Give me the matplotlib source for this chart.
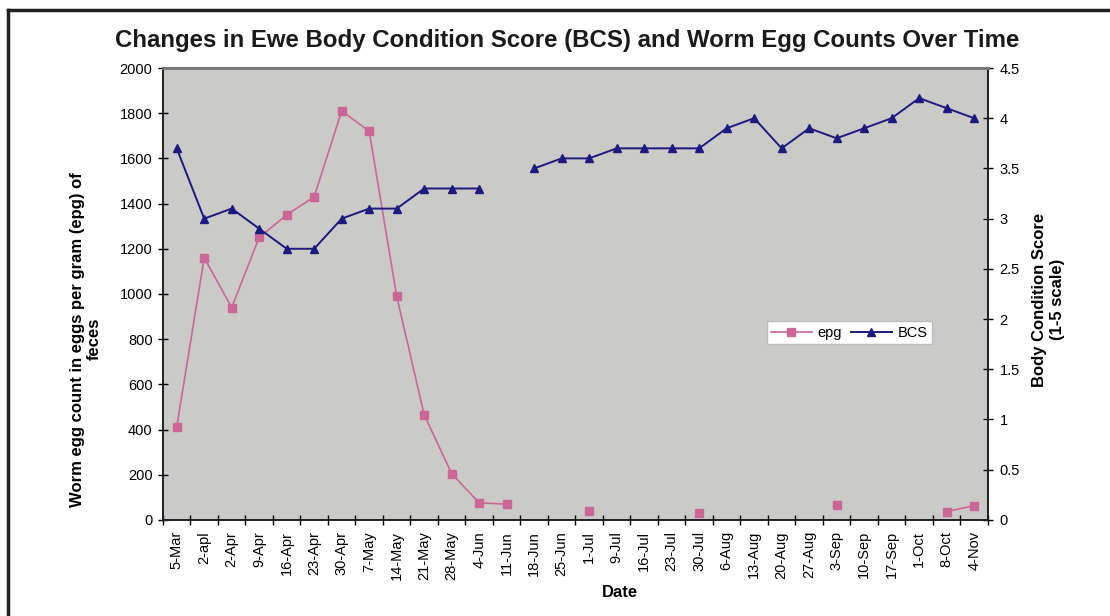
import numpy as np
import matplotlib
matplotlib.use("Agg")
import matplotlib.pyplot as plt
from matplotlib.lines import Line2D

plt.rcParams['font.family'] = ['Liberation Sans', 'DejaVu Sans']

# category labels (as printed on the chart)
dates = ["5-Mar", "2-apl", "2-Apr", "9-Apr", "16-Apr", "23-Apr", "30-Apr", "7-May",
         "14-May", "21-May", "28-May", "4-Jun", "11-Jun", "18-Jun", "25-Jun", "1-Jul",
         "9-Jul", "16-Jul", "23-Jul", "30-Jul", "6-Aug", "13-Aug", "20-Aug", "27-Aug",
         "3-Sep", "10-Sep", "17-Sep", "1-Oct", "8-Oct", "4-Nov"]

nan = np.nan
epg = [410, 1160, 940, 1250, 1350, 1430, 1810, 1720,
       990, 465, 205, 75, 70, nan, nan, 40,
       nan, nan, nan, 30, nan, nan, nan, nan,
       65, nan, nan, nan, 37, 63]

bcs = [3.7, 3.0, 3.1, 2.9, 2.7, 2.7, 3.0, 3.1,
       3.1, 3.3, 3.3, 3.3, nan, 3.5, 3.6, 3.6,
       3.7, 3.7, 3.7, 3.7, 3.9, 4.0, 3.7, 3.9,
       3.8, 3.9, 4.0, 4.2, 4.1, 4.0]

x = np.arange(len(dates))
pink = "#cc6699"
navy = "#1a1a80"

fig = plt.figure(figsize=(11.1, 6.16), dpi=100)
ax = fig.add_axes([0.1468, 0.156, 0.7432, 0.7336])
ax.set_facecolor("#cacac7")

ax.plot(x, epg, color=pink, lw=1.2, marker="s", ms=5.5, mfc=pink, mec=pink, label="epg")
ax.set_ylim(0, 2000)
ax.set_yticks(np.arange(0, 2001, 200))
ax.set_xlim(-0.5, len(dates) - 0.5)
ax.set_xticks(x)
ax.set_xticklabels(dates, rotation=90, fontsize=10.5)
ax.set_xticks(np.arange(-0.5, len(dates)), minor=True)
ax.tick_params(axis="x", which="major", length=0, pad=8)
ax.tick_params(axis="x", which="minor", length=7, direction="inout", width=1)
ax.tick_params(axis="y", length=7, direction="inout", width=1, labelsize=10.5, pad=4)

ax2 = ax.twinx()
ax2.plot(x, bcs, color=navy, lw=1.4, marker="^", ms=6, mfc=navy, mec=navy, label="BCS")
ax2.set_ylim(0, 4.5)
ax2.set_yticks(np.arange(0, 4.51, 0.5))
ax2.set_yticklabels(["0", "0.5", "1", "1.5", "2", "2.5", "3", "3.5", "4", "4.5"])
ax2.tick_params(axis="y", length=7, direction="inout", width=1, labelsize=10.5, pad=5)

for a in (ax, ax2):
    a.spines["top"].set_color("#7a7a7a")
    a.spines["top"].set_linewidth(2)
    for s in ("left", "right", "bottom"):
        a.spines[s].set_color("#202020")
        a.spines[s].set_linewidth(1.2)

fig.text(0.511, 0.935, "Changes in Ewe Body Condition Score (BCS) and Worm Egg Counts Over Time",
         ha="center", va="center", fontsize=17.3, fontweight="bold", color="#1a1a1a")
ax.set_ylabel("Worm egg count in eggs per gram (epg) of\nfeces", fontsize=12,
              fontweight="bold")
ax.yaxis.set_label_coords(-0.074, 0.40)
ax2.set_ylabel("Body Condition Score\n(1-5 scale)", fontsize=12, fontweight="bold")
ax2.yaxis.set_label_coords(1.054, 0.487)
ax.set_xlabel("Date", fontsize=12, fontweight="bold")
ax.xaxis.set_label_coords(0.554, -0.145)

handles = [Line2D([], [], color=pink, marker="s", ms=5.5, lw=1.2),
           Line2D([], [], color=navy, marker="^", ms=6, lw=1.4)]
ax2.legend(handles, ["epg", "BCS"], ncol=2, loc="center", bbox_to_anchor=(0.832, 0.414),
           fontsize=10.5, frameon=True, fancybox=False, edgecolor="#bbbbbb",
           facecolor="white", framealpha=1, handlelength=2.8, columnspacing=0.6,
           handletextpad=0.4, borderpad=0.3)

# outer frame lines (top and left visible)
fig.add_artist(Line2D([8 / 1110, 1.0], [1 - 10 / 616, 1 - 10 / 616],
                      transform=fig.transFigure, color="#202020", lw=2.5))
fig.add_artist(Line2D([8 / 1110, 8 / 1110], [0, 1 - 10 / 616],
                      transform=fig.transFigure, color="#202020", lw=2.5))

fig.savefig("out.png", dpi=100)
